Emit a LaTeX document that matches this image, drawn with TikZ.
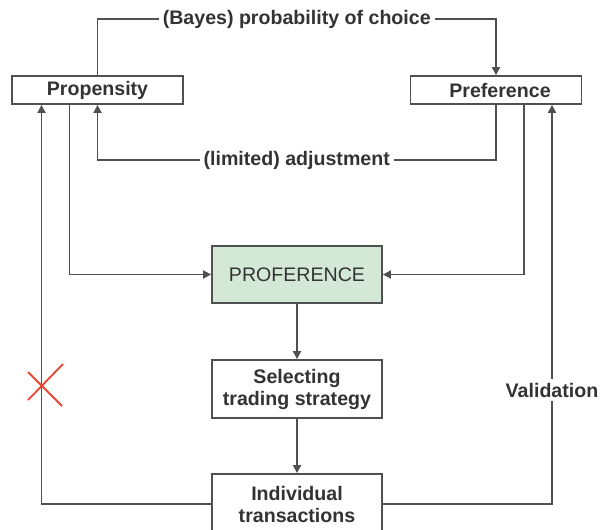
\documentclass[tikz,border=0pt]{standalone}
\usepackage{fontspec}
\setmainfont{Liberation Sans}
\usetikzlibrary{arrows.meta,calc}
\definecolor{ink}{HTML}{333333}
\definecolor{wire}{HTML}{505050}
\definecolor{mint}{HTML}{D4E8D8}
\definecolor{cross}{HTML}{E8452E}
\tikzset{
  tip/.tip={Triangle[length=8pt,width=8pt]},
  arr/.style={draw=wire,line width=1.8pt,-tip},
}
\begin{document}
\begin{tikzpicture}[x=1pt,y=-1pt,
  every node/.style={text=ink,font=\fontsize{19.6}{22}\selectfont\bfseries},
  box/.style={draw=wire,line width=1.8pt,fill=white,align=center,inner sep=0pt},
  lbl/.style={fill=white,inner sep=4pt}]
\useasboundingbox (0,0) rectangle (600,530);
% the five blocks
\node[box,minimum width=171,minimum height=28] (prop) at (97.5,90) {Propensity};
\node[box,minimum width=171,minimum height=28] (pref) at (496,90) {\hspace{8pt}Preference};
\node[box,fill=mint,minimum width=170,minimum height=57,font=\fontsize{19.6}{22}\selectfont] (prof) at (297,274.5) {PROFERENCE};
\node[box,minimum width=170,minimum height=58] (sel) at (297,389) {Selecting\\trading strategy};
\node[box,minimum width=170,minimum height=60] (ind) at (297,504) {Individual\\transactions};
% top loop between propensity and preference
\draw[arr] (prop.north) -- (prop.north |- 0,19)
  -- node[lbl] {(Bayes) probability of choice} (pref.north |- 0,19) -- (pref.north);
\draw[arr] (pref.south) -- (pref.south |- 0,160)
  -- node[lbl] {(limited) adjustment} (prop.south |- 0,160) -- (prop.south);
% both feed the combined block
\draw[arr] ([xshift=-28pt]prop.south) |- (prof.west);
\draw[arr] ([xshift=28pt]pref.south) |- (prof.east);
% main chain
\draw[arr] (prof.south) -- (sel.north);
\draw[arr] (sel.south) -- (ind.north);
% feedback from transactions
\draw[arr] (ind.west) -| ([xshift=-56pt]prop.south);
\draw[arr] (ind.east) -| ([xshift=56pt]pref.south);
\node[lbl] (val) at (552,390) {Validation};
% rejected feedback path
\draw[cross,line width=1.8pt] (28,372) -- (62,406);
\draw[cross,line width=1.8pt] (63,364) -- (28,400);
\end{tikzpicture}
\end{document}
